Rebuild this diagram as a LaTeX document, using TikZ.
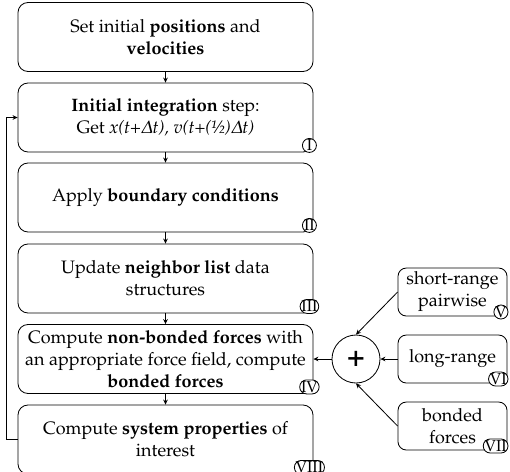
\documentclass[tikz,border=0pt]{standalone}
\usepackage[T1]{fontenc}
\usepackage[slantedGreek]{mathpazo}
\usepackage{textcomp}
\usetikzlibrary{arrows.meta,calc}
\tikzset{
  mainbox/.style={draw, line width=0.5pt, rounded corners=6pt, minimum width=177pt, minimum height=41.4pt, align=center, inner sep=1pt, font=\fontsize{10.8}{13.2}\selectfont},
  sidebox/.style={draw, line width=0.5pt, rounded corners=5pt, minimum width=65.4pt, minimum height=28.8pt, align=center, inner sep=1pt, font=\fontsize{10.8}{13.2}\selectfont},
  tag/.style={draw, line width=0.5pt, rounded corners=4.2pt, minimum width=8.4pt, minimum height=8.4pt, inner xsep=0.8pt, inner ysep=0pt, fill=white, font=\fontsize{9.5}{9.5}\selectfont},
  flow/.style={-{Stealth[length=3pt,width=2.8pt]}, line width=0.5pt},
}
\begin{document}
\begin{tikzpicture}[x=0.6pt,y=-0.6pt]
\useasboundingbox (0,0) rectangle (510,471);
\clip (0,0) rectangle (510,471);
\node[mainbox] (b1) at (165.5,37) {Set initial \textbf{positions} and\\ \textbf{velocities}};
\node[mainbox] (b2) at (165.5,117.5) {\textbf{Initial integration} step:\\ Get \textit{x(t+$\Delta$t), v(t+(\textonehalf)$\Delta$t)}};
\node[mainbox] (b3) at (165.5,197.5) {Apply \textbf{boundary conditions}};
\node[mainbox] (b4) at (165.5,278.5) {Update \textbf{neighbor list} data\\ structures};
\node[mainbox] (b5) at (165.5,359) {Compute \textbf{non-bonded forces} with\\ an appropriate force field, compute\\ \textbf{bonded forces}};
\node[mainbox] (b6) at (165.5,439.5) {Compute \textbf{system properties} of\\ interest};

\node[tag] (t1) at ($(b2.south east)+(-4,-7)$) {I};
\node[tag] (t2) at ($(b3.south east)+(-4,-7)$) {II};
\node[tag] (t3) at ($(b4.south east)+(-4,-7)$) {III};
\node[tag] (t4) at ($(b5.south east)+(-4,-7)$) {IV};
\node[tag] (t8) at ($(b6.south east)+(-4,-7)$) {VIII};

\node[sidebox] (s5) at (452.5,292) {short-range\\ pairwise};
\node[sidebox] (s6) at (452.5,359) {long-range};
\node[sidebox] (s7) at (452.5,426) {bonded\\ forces};
\node[tag, anchor=south east] (t5) at ($(s5.south east)+(1,3)$) {V};
\node[tag, anchor=south east] (t6) at ($(s6.south east)+(1,3)$) {VI};
\node[tag, anchor=south east] (t7) at ($(s7.south east)+(1,3)$) {VII};

\node[draw, circle, line width=0.5pt, minimum size=28.8pt, inner sep=0pt, font=\fontsize{18}{18}\selectfont\bfseries] (plus) at (356,359) {+};

\draw[flow] (b1) -- (b2);
\draw[flow] (b2) -- (b3);
\draw[flow] (b3) -- (b4);
\draw[flow] (b4) -- (b5);
\draw[flow] (b5) -- (b6);
\coordinate (fb) at (6,439.5);
\draw[flow] (b6.west) -- (fb) |- (b2.west);
\draw[flow] (plus) -- (b5);
\draw[flow] (s5.west) -- (plus.north);
\draw[flow] (s6) -- (plus);
\draw[flow] (s7.west) -- (plus.south);
\end{tikzpicture}
\end{document}
